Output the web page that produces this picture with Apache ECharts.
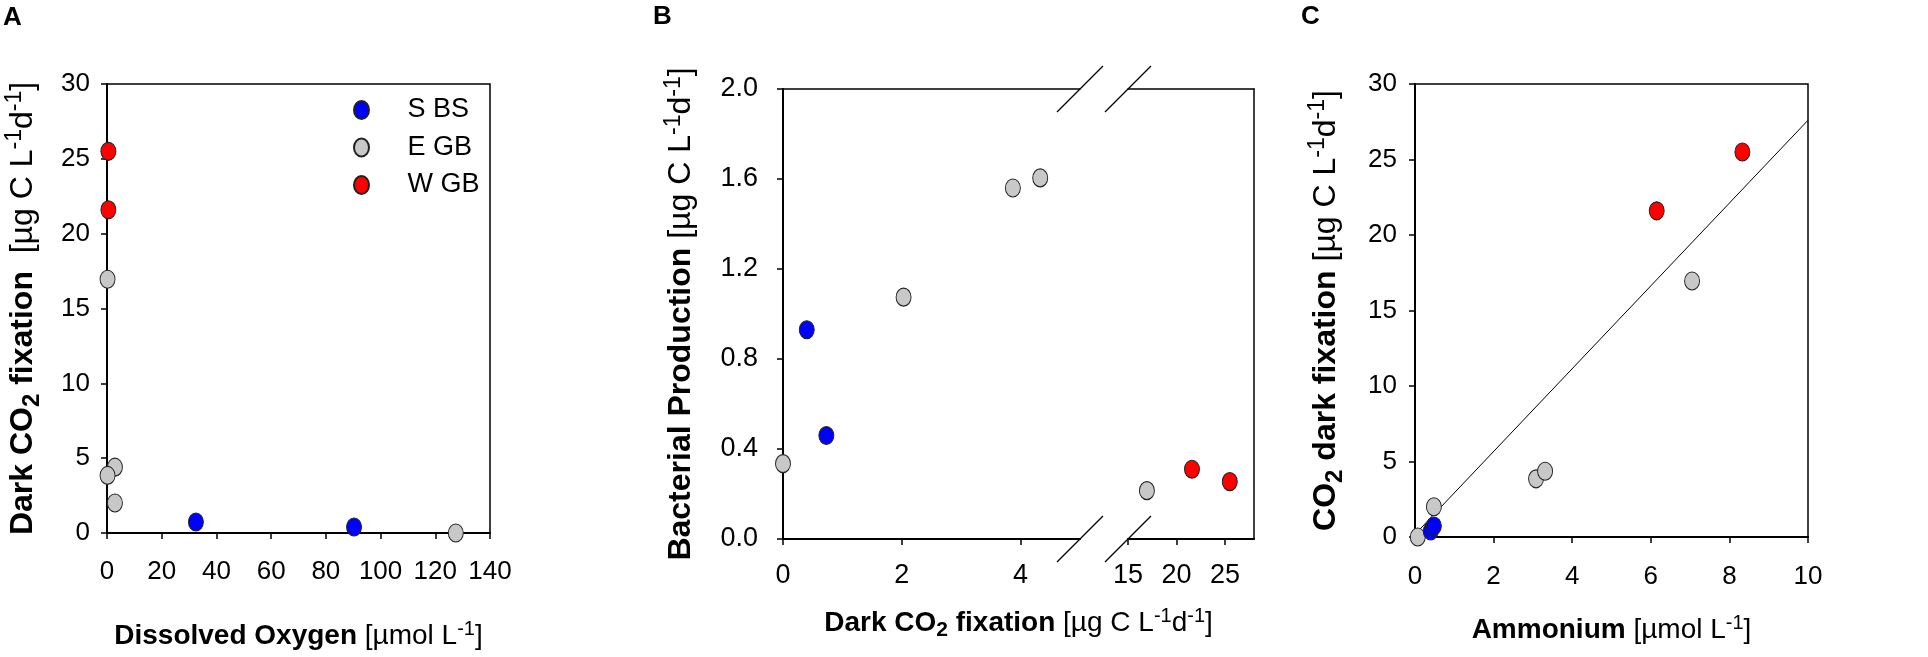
<!DOCTYPE html>
<html>
<head>
<meta charset="utf-8">
<title>Dark CO2 fixation</title>
<script src="https://cdn.jsdelivr.net/npm/echarts@6.0.0/dist/echarts.min.js"></script>
<style>
  html, body { margin: 0; padding: 0; background: #fff; }
  #chart { width: 1928px; height: 657px; }
</style>
</head>
<body>
<div id="chart"></div>
<script>
// ---- values ----
// A: dissolved oxygen [µmol L-1] vs dark CO2 fixation [µg C L-1 d-1]
const oxygenSBS = [[32.5, 0.73], [90.3, 0.4]]
const oxygenEGB = [[0.2, 16.95], [2.9, 4.4], [0.2, 3.85], [2.9, 2.0], [127.5, 0]]
const oxygenWGB = [[0.5, 25.5], [0.5, 21.6]]

// B: dark CO2 fixation vs bacterial production, x axis broken between 5 and 15
const bpSBS = [[0.4, 0.93], [0.73, 0.46]]
const bpEGB = [[0, 0.335], [2.03, 1.075], [3.87, 1.56], [4.33, 1.605], [16.95, 0.215]]
const bpWGB = [[21.6, 0.31], [25.5, 0.255]]

// C: ammonium vs dark CO2 fixation, plus the regression line
const nh4SBS = [[0.4, 0.4], [0.48, 0.73]]
const nh4EGB = [[0.07, 0], [0.48, 2.0], [3.08, 3.85], [3.31, 4.35], [7.05, 16.95]]
const nh4WGB = [[6.15, 21.6], [8.33, 25.5]]
const nh4Fit = [[0.07, 0.37], [10, 27.6]]

// axis ranges [min, max, interval] and tick labels
const oxygenRange = [0, 140, 20]
const fixRange = [0, 30, 5]
const bpRange = [0, 2, 0.4]
const bLeftRange = [0, 5]
const bRightRange = [15, 28]
const bLeftTicks = [0, 2, 4]
const bRightTicks = [15, 20, 25]
const nh4Range = [0, 10, 2]

const groups = ['S BS', 'E GB', 'W GB']
const groupColors = ['#0000ff', '#c8c8c8', '#ff0000']

const font = "'Liberation Sans', Arial, sans-serif"
// slightly tall dot, like the original figure
const dot = 'path://M0,9A7.5,9,0,1,1,15,9A7.5,9,0,1,1,0,9Z'

// rich text styles for axis titles (sub/superscripts)
function makeRich(size) {
  const s = Math.round(size * 0.72)
  return {
    b: { fontFamily: font, fontWeight: 'bold', fontSize: size, color: '#000', fill: '#000' },
    bs: { fontFamily: font, fontWeight: 'bold', fontSize: s + 1, color: '#000', fill: '#000', padding: [Math.round(size * 0.55), 0, 0, 0] },
    n: { fontFamily: font, fontSize: size, color: '#000', fill: '#000' },
    sup: { fontFamily: font, fontSize: s, color: '#000', fill: '#000', padding: [0, 0, Math.round(size * 0.5), 0] }
  }
}
const richX = makeRich(28)
const richY = makeRich(32)

const unitRate = '{n| [µg C L}{sup|-1}{n|d}{sup|-1}{n|]}'
const unitConc = '{n| [µmol L}{sup|-1}{n|]}'
const titleAx = '{b|Dissolved Oxygen}' + unitConc
const titleAy = '{b|Dark CO}{bs|2}{b| fixation }' + unitRate
const titleBx = '{b|Dark CO}{bs|2}{b| fixation}' + unitRate
const titleBy = '{b|Bacterial Production}' + unitRate
const titleCx = '{b|Ammonium}' + unitConc
const titleCy = '{b|CO}{bs|2}{b| dark fixation}' + unitRate

function valueAxis(gridIndex, min, max, interval, labelMargin, extra, labelSize) {
  return Object.assign({
    type: 'value', gridIndex, min, max, interval,
    axisLine: { show: true, onZero: false, lineStyle: { color: '#000', width: 2 } },
    axisTick: { show: true, length: 6, lineStyle: { color: '#000', width: 1.5 } },
    axisLabel: { color: '#000', fontFamily: font, fontSize: labelSize || 26, margin: labelMargin },
    splitLine: { show: false }
  }, extra)
}

// a bare axis used only to draw a frame line
function frameAxis(gridIndex, position) {
  return {
    type: 'value', gridIndex, position, min: 0, max: 1,
    axisLine: { show: true, onZero: false, lineStyle: { color: '#000', width: 1.5 } },
    axisTick: { show: false }, axisLabel: { show: false }, splitLine: { show: false }
  }
}

function scatter(name, data, axisIndex, z) {
  return {
    type: 'scatter', name, data, xAxisIndex: axisIndex, yAxisIndex: axisIndex,
    symbol: dot, symbolSize: [15, 18], clip: false, z: z || 2,
    itemStyle: { color: groupColors[groups.indexOf(name)], borderColor: '#222', borderWidth: 1, opacity: 1 }
  }
}

const breakFrom = bLeftRange[1]
const breakTo = bRightRange[0]
const leftPart = d => d.filter(p => p[0] <= breakFrom)
const rightPart = d => d.filter(p => p[0] >= breakTo)

const panelLetter = { fontFamily: font, fontWeight: 'bold', fontSize: 26, color: '#000' }

const option = {
  animation: false,
  backgroundColor: '#fff',
  title: [
    { text: 'A', left: 3, top: 5, padding: 0, textStyle: panelLetter },
    { text: 'B', left: 653, top: 4, padding: 0, textStyle: panelLetter },
    { text: 'C', left: 1301, top: 4, padding: 0, textStyle: panelLetter }
  ],
  legend: {
    data: groups, orient: 'vertical', left: 353, top: 95, padding: 0,
    itemWidth: 82, itemHeight: 18, itemGap: 7.5, icon: dot, selectedMode: false,
    textStyle: { fontFamily: font, fontSize: 27, color: '#000', lineHeight: 30 }
  },
  grid: [
    { left: 107, top: 84, width: 383, height: 449, show: true, borderColor: '#000', borderWidth: 1.5, outerBoundsMode: 'none' },
    { left: 783, top: 89, width: 297, height: 450, outerBoundsMode: 'none' },
    { left: 1128, top: 89, width: 126, height: 450, outerBoundsMode: 'none' },
    { left: 1415, top: 84, width: 393, height: 453, show: true, borderColor: '#000', borderWidth: 1.5, outerBoundsMode: 'none' }
  ],
  xAxis: [
    valueAxis(0, oxygenRange[0], oxygenRange[1], oxygenRange[2], 26, {
      name: titleAx, nameLocation: 'middle', nameGap: 86, nameTextStyle: { rich: richX }
    }),
    valueAxis(1, bLeftRange[0], bLeftRange[1], null, 23, {
      axisTick: { show: true, length: 6, customValues: bLeftTicks, lineStyle: { color: '#000', width: 1.5 } },
      axisLabel: { color: '#000', fontFamily: font, fontSize: 27, margin: 23, customValues: bLeftTicks }
    }),
    valueAxis(2, bRightRange[0], bRightRange[1], null, 23, {
      axisTick: { show: true, length: 6, customValues: bRightTicks, lineStyle: { color: '#000', width: 1.5 } },
      axisLabel: { color: '#000', fontFamily: font, fontSize: 27, margin: 23, customValues: bRightTicks }
    }),
    valueAxis(3, nh4Range[0], nh4Range[1], nh4Range[2], 27, {
      name: titleCx, nameLocation: 'middle', nameGap: 76, nameTextStyle: { rich: richX }
    }),
    frameAxis(1, 'top'),
    frameAxis(2, 'top')
  ],
  yAxis: [
    valueAxis(0, fixRange[0], fixRange[1], fixRange[2], 17, {
      name: titleAy, nameLocation: 'middle', nameRotate: 90, nameGap: 63, nameTextStyle: { rich: richY }
    }),
    valueAxis(1, bpRange[0], bpRange[1], bpRange[2], 25, {
      axisLabel: { color: '#000', fontFamily: font, fontSize: 27, margin: 25, formatter: v => v.toFixed(1) },
      name: titleBy, nameLocation: 'middle', nameRotate: 90, nameGap: 82, nameTextStyle: { rich: richY }
    }),
    { type: 'value', gridIndex: 2, min: bpRange[0], max: bpRange[1], show: false },
    valueAxis(3, fixRange[0], fixRange[1], fixRange[2], 18, {
      name: titleCy, nameLocation: 'middle', nameRotate: 90, nameGap: 68, nameTextStyle: { rich: richY }
    }),
    frameAxis(2, 'right')
  ],
  series: [
    scatter('S BS', oxygenSBS, 0),
    scatter('E GB', oxygenEGB, 0),
    scatter('W GB', oxygenWGB, 0),

    scatter('S BS', leftPart(bpSBS), 1),
    scatter('E GB', leftPart(bpEGB), 1),
    scatter('W GB', leftPart(bpWGB), 1),
    scatter('S BS', rightPart(bpSBS), 2),
    scatter('E GB', rightPart(bpEGB), 2),
    scatter('W GB', rightPart(bpWGB), 2),

    {
      type: 'line', data: nh4Fit, xAxisIndex: 3, yAxisIndex: 3, symbol: 'none', z: 1,
      lineStyle: { color: '#000', width: 1 }, silent: true
    },
    scatter('E GB', nh4EGB, 3),
    scatter('W GB', nh4WGB, 3),
    scatter('S BS', nh4SBS, 3, 3)
  ]
}

const chart = echarts.init(document.getElementById('chart'))
chart.setOption(option)

// break marks and the shared x title of panel B, placed from the axes
function drawBreaks() {
  const xL = chart.convertToPixel({ xAxisIndex: 1 }, breakFrom)
  const xR = chart.convertToPixel({ xAxisIndex: 2 }, breakTo)
  const x0 = chart.convertToPixel({ xAxisIndex: 1 }, bLeftRange[0])
  const xEnd = chart.convertToPixel({ xAxisIndex: 2 }, bRightRange[1])
  const yBottom = chart.convertToPixel({ yAxisIndex: 1 }, bpRange[0])
  const yTop = chart.convertToPixel({ yAxisIndex: 1 }, bpRange[1])
  const h = 23
  const elements = []
  ;[xL, xR].forEach(x => {
    ;[yTop, yBottom].forEach(y => {
      elements.push({
        type: 'line', silent: true,
        shape: { x1: x - h, y1: y + h, x2: x + h, y2: y - h },
        style: { stroke: '#000', lineWidth: 1.3 }
      })
    })
  })
  elements.push({
    type: 'text', silent: true, x: (x0 + xEnd) / 2, y: yBottom + 84,
    style: { text: titleBx, rich: richX, align: 'center', verticalAlign: 'middle', fill: '#000' }
  })
  chart.setOption({ graphic: elements })
}
drawBreaks()

window.addEventListener('resize', () => {
  chart.resize()
  drawBreaks()
})
</script>
</body>
</html>
